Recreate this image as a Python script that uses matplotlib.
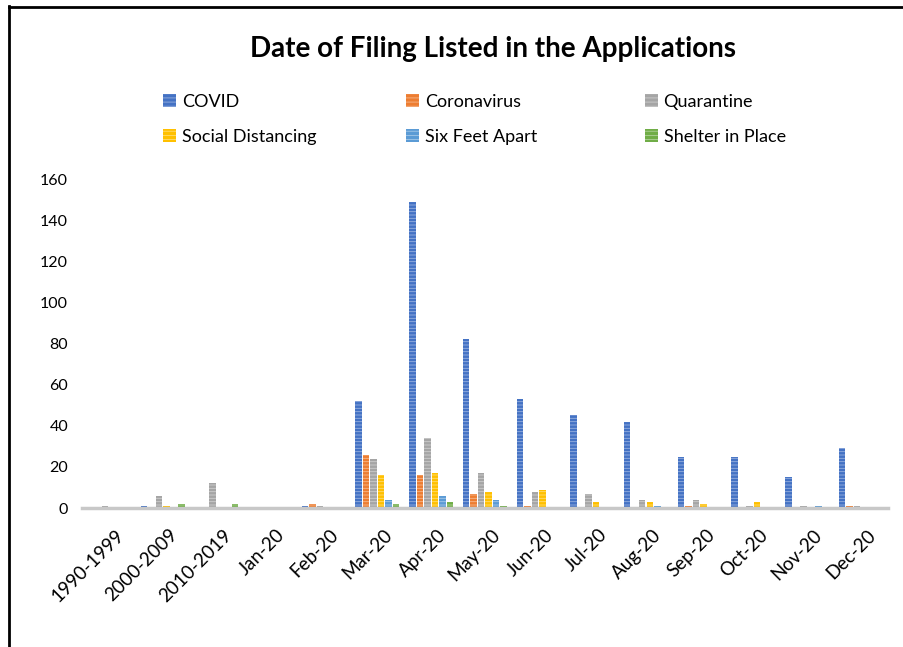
import numpy as np
import matplotlib
matplotlib.use("Agg")
import matplotlib.pyplot as plt
from matplotlib.lines import Line2D
from matplotlib.patches import Patch
from matplotlib.colors import to_rgb
from matplotlib.transforms import ScaledTranslation

plt.rcParams['font.family'] = ['Lato', 'DejaVu Sans']
plt.rcParams['hatch.linewidth'] = 0.6

categories = ["1990-1999", "2000-2009", "2010-2019", "Jan-20", "Feb-20", "Mar-20",
              "Apr-20", "May-20", "Jun-20", "Jul-20", "Aug-20", "Sep-20",
              "Oct-20", "Nov-20", "Dec-20"]

covid        = [0, 1, 0, 0, 1, 52, 149, 82, 53, 45, 42, 25, 25, 15, 29]
coronavirus  = [0, 0, 0, 0, 2, 26, 16, 7, 1, 0, 0, 1, 0, 0, 1]
quarantine   = [1, 6, 12, 0, 1, 24, 34, 17, 8, 7, 4, 4, 1, 1, 1]
social_dist  = [0, 1, 0, 0, 0, 16, 17, 8, 9, 3, 3, 2, 3, 0, 0]
six_feet     = [0, 0, 0, 0, 0, 4, 6, 4, 0, 0, 1, 0, 0, 1, 0]
shelter      = [0, 2, 2, 0, 0, 2, 3, 1, 0, 0, 0, 0, 0, 0, 0]

series = [
    ("COVID", covid, "#4472C4"),
    ("Coronavirus", coronavirus, "#ED7D31"),
    ("Quarantine", quarantine, "#A5A5A5"),
    ("Social Distancing", social_dist, "#FFC000"),
    ("Six Feet Apart", six_feet, "#5B9BD5"),
    ("Shelter in Place", shelter, "#70AD47"),
]


def lighter(c, f=0.45):
    r, g, b = to_rgb(c)
    return (r + (1 - r) * f, g + (1 - g) * f, b + (1 - b) * f)


fig = plt.figure(figsize=(9.04, 6.47), dpi=100)
ax = fig.add_axes([0.0907, 0.2148, 0.8913, 0.5085])

x = np.arange(len(categories))
pitch = 0.14
width = 0.12
handles = []
for i, (name, vals, col) in enumerate(series):
    off = (i - 2.5) * pitch
    ax.bar(x + off, vals, width, color=col, edgecolor=lighter(col), linewidth=0,
           hatch='-----')
    handles.append(Patch(facecolor=col, edgecolor=lighter(col), linewidth=0,
                         hatch='----', label=name))

ax.set_xlim(-0.5, len(categories) - 0.5)
ax.set_ylim(0, 160)
ax.set_yticks(range(0, 161, 20))
ax.set_xticks(x)
ax.set_xticklabels(categories, rotation=45, ha='right', rotation_mode='anchor')
ax.tick_params(axis='y', length=0, labelsize=11.5, colors='#000000', pad=10)
ax.tick_params(axis='x', length=0, labelsize=13.5, colors='#000000', pad=13)
shift = ScaledTranslation(6 / 100, 0, fig.dpi_scale_trans)
for lab in ax.get_xticklabels():
    lab.set_transform(lab.get_transform() + shift)
for s in ['top', 'right', 'left']:
    ax.spines[s].set_visible(False)
ax.spines['bottom'].set_color('#C8C8C8')
ax.spines['bottom'].set_linewidth(2.5)

fig.text(0.545, 0.925, "Date of Filing Listed in the Applications",
         ha='center', va='center', fontsize=20, fontweight='bold')

col_x = [0.180, 0.449, 0.713]
for j in range(3):
    leg = fig.legend(handles=[handles[j], handles[j + 3]], loc='upper left',
                     bbox_to_anchor=(col_x[j], 0.855), frameon=False,
                     fontsize=13, handlelength=0.75, handleheight=0.75,
                     handletextpad=0.3, labelspacing=1.05, borderaxespad=0,
                     borderpad=0)

fig.add_artist(Line2D([0.0105, 0.0105], [0, 0.99], color='black', linewidth=2,
                      transform=fig.transFigure))
fig.add_artist(Line2D([0.0095, 1.0], [0.989, 0.989], color='black', linewidth=2,
                      transform=fig.transFigure))

fig.savefig("out.png", dpi=100)
